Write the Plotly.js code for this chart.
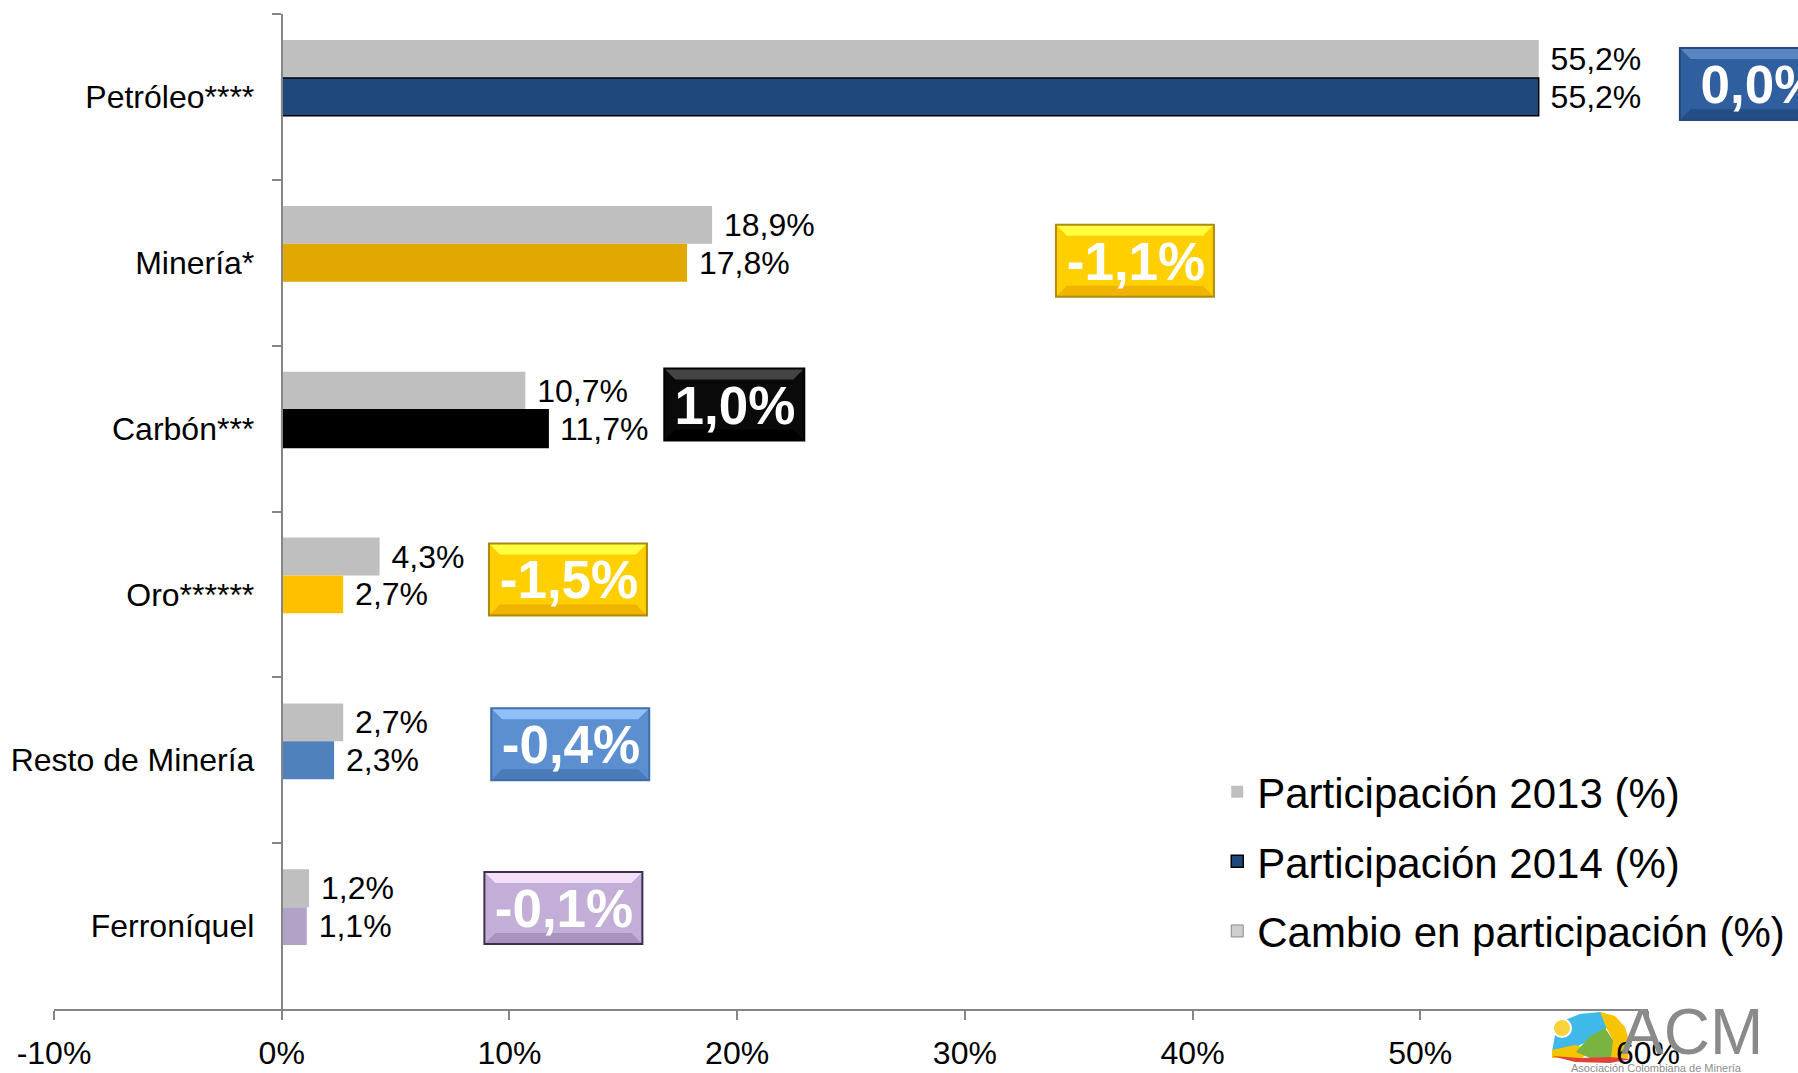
<!DOCTYPE html>
<html>
<head>
<meta charset="utf-8">
<script src="https://cdn.plot.ly/plotly-3.0.1.min.js"></script>
<style>
  html, body { margin: 0; padding: 0; background: #fff; }
  #chart { width: 1798px; height: 1073px; }
</style>
</head>
<body>
<div id="chart"></div>
<script>
// participacion por sector, en %
var sectors = ['Petróleo****', 'Minería*', 'Carbón***', 'Oro******', 'Resto de Minería', 'Ferroníquel'];
var share2013 = [55.2, 18.9, 10.7, 4.3, 2.7, 1.2];
var share2014 = [55.2, 17.8, 11.7, 2.7, 2.3, 1.1];
var change = [0.0, -1.1, 1.0, -1.5, -0.4, -0.1];

var tickVals = [-10, 0, 10, 20, 30, 40, 50, 60];
var tickLabels = ['-10%', '0%', '10%', '20%', '30%', '40%', '50%', '60%'];

// look of the chart
var colors2014 = ['#1f497d', '#e0a800', '#000000', '#ffc000', '#4f81bd', '#b3a2c7'];
var boxTop = ['#5a86c4', '#ffff40', '#444444', '#ffff40', '#8fc0f7', '#f3e0f8'];
var boxMid = ['#2f5f9f', '#ffcf00', '#0a0a0a', '#ffcf00', '#5b8fd0', '#c2aed6'];
var boxBot = ['#244d85', '#efb300', '#000000', '#efb300', '#4a7bb8', '#a893bd'];
var boxLine = ['#24487a', '#b08c10', '#000000', '#a88a10', '#3f6fa8', '#3d2e52'];
var boxLeft = [61.4, 34.0, 16.8, 9.1, 9.2, 8.9];     // left edge of each change box, x units
var boxShift = [13, 2, 24, 15, 16, 18];              // px up from category centre
var boxWidth = [160, 158, 140, 158, 158, 158];
var BOX_H = 72, BEVEL = 11;

var FONT = 'Liberation Sans, Arial, sans-serif';
var X0 = -10, X1 = 60;

function fmt(v) {
    return ' ' + v.toFixed(1).replace('.', ',') + '%';
}
function xPaper(v) { return (v - X0) / (X1 - X0); }
function catPaper(i) { return 1 - (i + 0.5) / sectors.length; }

var t2013 = {
    type: 'bar', orientation: 'h', name: 'Participación 2013 (%)',
    y: sectors, x: share2013, offsetgroup: 'a', legendgroup: 'g1',
    marker: {color: '#bfbfbf'},
    text: share2013.map(fmt), textposition: 'outside', constraintext: 'none',
    textfont: {family: FONT, size: 32, color: '#000'},
    cliponaxis: false, hoverinfo: 'x+y'
};
var t2014 = {
    type: 'bar', orientation: 'h', name: 'Participación 2014 (%)',
    y: sectors, x: share2014, offsetgroup: 'b', legendgroup: 'g2',
    marker: {color: colors2014, line: {color: ['#000', 'rgba(0,0,0,0)', '#000', 'rgba(0,0,0,0)', 'rgba(0,0,0,0)', 'rgba(0,0,0,0)'], width: 1.5}},
    text: share2014.map(fmt), textposition: 'outside', constraintext: 'none',
    textfont: {family: FONT, size: 32, color: '#000'},
    cliponaxis: false, hoverinfo: 'x+y'
};
// third slot of each group, kept empty like the original
var tChangeSlot = {
    type: 'bar', orientation: 'h', name: 'Cambio en participación (%)',
    y: sectors, x: change, offsetgroup: 'c',
    marker: {color: 'rgba(0,0,0,0)'}, showlegend: false, hoverinfo: 'skip'
};
// zero-length bar, only for the legend entry
var tChangeLegend = {
    type: 'bar', orientation: 'h', name: 'Cambio en participación (%)',
    y: [sectors[0]], x: [0], offsetgroup: 'c', legendgroup: 'g3',
    marker: {color: '#cfcfcf', line: {color: '#8a8a8a', width: 1}}, hoverinfo: 'skip'
};

var shapes = [];
var annotations = [];
sectors.forEach(function (s, i) {
    var w = boxWidth[i], t = boxShift[i] + BOX_H / 2, b = boxShift[i] - BOX_H / 2;
    var base = {
        xref: 'paper', yref: 'paper', xsizemode: 'pixel', ysizemode: 'pixel',
        xanchor: xPaper(boxLeft[i]), yanchor: catPaper(i), layer: 'above'
    };
    function poly(pts) {
        return 'M' + pts.map(function (p) { return p[0] + ',' + p[1]; }).join('L') + 'Z';
    }
    shapes.push(Object.assign({}, base, {type: 'rect', x0: 0, x1: w, y0: b, y1: t,
        fillcolor: boxMid[i], line: {width: 0}}));
    shapes.push(Object.assign({}, base, {type: 'path',
        path: poly([[0, t], [w, t], [w - BEVEL, t - BEVEL], [BEVEL, t - BEVEL]]),
        fillcolor: boxTop[i], line: {width: 0}}));
    shapes.push(Object.assign({}, base, {type: 'path',
        path: poly([[0, b], [w, b], [w - BEVEL, b + BEVEL], [BEVEL, b + BEVEL]]),
        fillcolor: boxBot[i], line: {width: 0}}));
    shapes.push(Object.assign({}, base, {type: 'rect', x0: 0, x1: w, y0: b, y1: t,
        fillcolor: 'rgba(0,0,0,0)', line: {color: boxLine[i], width: 2}}));

    annotations.push({
        xref: 'paper', yref: 'paper', x: xPaper(boxLeft[i]), y: catPaper(i),
        xanchor: 'left', yanchor: 'middle', yshift: boxShift[i], showarrow: false,
        text: '<b>' + change[i].toFixed(1).replace('.', ',') + '%</b>',
        font: {family: FONT, size: 53, color: '#ffffff'},
        borderpad: 0, width: w, height: BOX_H, align: 'center', valign: 'middle'
    });
});

// logo ACM (abajo a la derecha), in page pixels
function px(x) { return (x - 54) / 1594; }
function py(y) { return (1009 - y) / 995; }
var logo = [
    {fill: '#3fb8ea', pts: [[1552, 1052], [1555, 1035], [1565, 1020], [1580, 1014], [1600, 1012], [1615, 1017], [1605, 1030], [1590, 1040], [1570, 1050]]},
    {fill: '#f6c500', pts: [[1552, 1050], [1575, 1045], [1592, 1050], [1582, 1058], [1552, 1058]]},
    {fill: '#79b443', pts: [[1576, 1052], [1590, 1036], [1605, 1028], [1613, 1040], [1613, 1058], [1590, 1058]]},
    {fill: '#f8c400', pts: [[1600, 1012], [1615, 1016], [1625, 1027], [1630, 1044], [1628, 1058], [1611, 1058], [1613, 1040], [1606, 1027]]},
    {fill: '#e3403a', pts: [[1552, 1056], [1580, 1058], [1610, 1057], [1632, 1059], [1610, 1063], [1575, 1062]]}
];
logo.forEach(function (p) {
    shapes.push({type: 'path', xref: 'paper', yref: 'paper', layer: 'below',
        path: 'M' + p.pts.map(function (q) { return px(q[0]) + ',' + py(q[1]); }).join('L') + 'Z',
        fillcolor: p.fill, line: {width: 0}});
});
shapes.push({type: 'circle', xref: 'paper', yref: 'paper', layer: 'below',
    x0: px(1553), x1: px(1571), y0: py(1037), y1: py(1019), fillcolor: '#fbd23a', line: {color: '#ffffff', width: 2}});

annotations.push({
    xref: 'paper', yref: 'paper', x: px(1692), y: py(1032), xanchor: 'center', yanchor: 'middle',
    showarrow: false, text: 'ACM',
    font: {family: FONT, size: 64, color: '#8a8a8a'}
});
annotations.push({
    xref: 'paper', yref: 'paper', x: px(1657), y: py(1060), xanchor: 'center', yanchor: 'top',
    showarrow: false, text: 'Asociación Colombiana de Minería',
    font: {family: FONT, size: 11, color: '#8c8c8c'}
});

var layout = {
    width: 1798, height: 1073,
    margin: {l: 54, r: 150, t: 14, b: 64, autoexpand: false},
    paper_bgcolor: '#ffffff', plot_bgcolor: '#ffffff',
    font: {family: FONT, color: '#000'},
    barmode: 'group', bargap: 0.315, bargroupgap: 0,
    xaxis: {
        range: [X0, X1], tickvals: tickVals, ticktext: tickLabels,
        showgrid: false, zeroline: false,
        showline: true, linecolor: '#868686', linewidth: 2,
        ticks: 'outside', ticklen: 9, tickwidth: 2, tickcolor: '#868686',
        ticklabelstandoff: 6,
        tickfont: {family: FONT, size: 32, color: '#000'}
    },
    yaxis: {
        type: 'category', autorange: 'reversed',
        anchor: 'free', position: xPaper(0),
        showgrid: false, zeroline: false,
        showline: true, linecolor: '#868686', linewidth: 2,
        ticks: 'outside', tickson: 'boundaries', ticklen: 9, tickwidth: 2, tickcolor: '#868686',
        ticklabelstandoff: 20,
        tickfont: {family: FONT, size: 32, color: '#000'}
    },
    legend: {
        xref: 'container', yref: 'container',
        x: 0.677, y: 0.2936, xanchor: 'left', yanchor: 'top',
        bgcolor: 'rgba(0,0,0,0)', traceorder: 'grouped', tracegroupgap: 12,
        font: {family: FONT, size: 42, color: '#000'}
    },
    shapes: shapes,
    annotations: annotations,
    showlegend: true
};

Plotly.newPlot('chart', [t2013, t2014, tChangeSlot, tChangeLegend], layout, {displayModeBar: false});
</script>
</body>
</html>
